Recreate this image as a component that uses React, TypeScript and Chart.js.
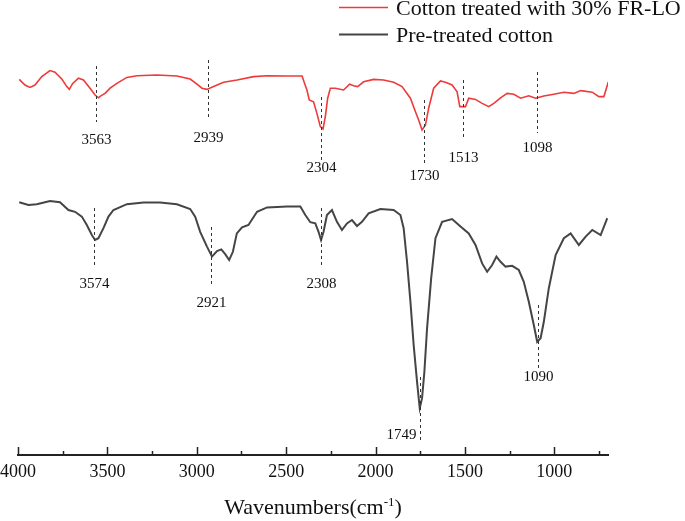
import React, { useEffect, useRef } from 'react';
import { Chart, registerables } from 'chart.js';

Chart.register(...registerables);

const FONT = "'Liberation Serif', 'Times New Roman', Times, serif";

// Series names
const seriesNames = ['Cotton treated with 30% FR-LO', 'Pre-treated cotton'];

// Cotton treated with 30% FR-LO (wavenumber cm-1, relative transmittance)
const treatedWavenumbers = [
  3993, 3961, 3933, 3905, 3867, 3821, 3793, 3755, 3727, 3713, 3694, 3662, 3634, 3597, 3569,
  3550, 3537, 3513, 3485, 3447, 3391, 3335, 3223, 3111, 3037, 2999, 2971, 2943, 2906, 2850,
  2775, 2682, 2607, 2495, 2411, 2397, 2384, 2371, 2347, 2328, 2309, 2294, 2281, 2268, 2253,
  2225, 2179, 2145, 2123, 2100, 2067, 2011, 1955, 1899, 1852, 1805, 1777, 1759, 1740, 1721,
  1703, 1675, 1637, 1609, 1572, 1544, 1529, 1497, 1479, 1441, 1404, 1367, 1339, 1301, 1264,
  1227, 1189, 1143, 1105, 1059, 1003, 947, 891, 853, 788, 751, 723, 698,
];
const treatedValues = [
  93.9, 92.5, 91.9, 92.5, 94.6, 96.1, 95.7, 94.0, 92.1, 91.4, 92.9, 94.2, 93.75, 91.7, 90.0,
  89.3, 89.8, 90.4, 91.7, 92.9, 94.4, 94.8, 95.0, 94.75, 94.0, 92.7, 91.7, 91.4, 92.1, 93.2,
  93.75, 94.6, 94.8, 94.75, 94.75, 92.9, 91.25, 88.75, 88.3, 85.4, 82.1, 81.5, 84.6, 89.2, 91.7,
  91.7, 91.25, 92.7, 92.3, 92.1, 93.3, 93.9, 93.75, 93.2, 92.1, 89.2, 85.8, 83.75, 81.25, 82.5,
  86.7, 91.7, 93.5, 93.2, 92.5, 90.8, 87.1, 87.1, 89.2, 88.9, 87.9, 87.1, 87.9, 89.3, 90.4,
  90.2, 89.2, 89.8, 89.2, 89.75, 90.2, 90.7, 90.4, 91.1, 90.7, 89.6, 89.6, 93.3,
];

// Pre-treated cotton
const pretreatedWavenumbers = [
  3993, 3942, 3895, 3821, 3765, 3718, 3681, 3643, 3615, 3587, 3569, 3550, 3522, 3494, 3466,
  3391, 3298, 3205, 3111, 3037, 3009, 2981, 2943, 2915, 2887, 2863, 2841, 2819, 2798, 2776,
  2747, 2711, 2663, 2607, 2495, 2421, 2393, 2365, 2337, 2319, 2305, 2291, 2272, 2244, 2216,
  2188, 2160, 2132, 2104, 2076, 2039, 1973, 1899, 1861, 1843, 1824, 1805, 1787, 1768, 1753,
  1740, 1727, 1712, 1689, 1665, 1628, 1572, 1525, 1479, 1441, 1404, 1376, 1348, 1324, 1301,
  1273, 1236, 1199, 1171, 1143, 1115, 1096, 1077, 1059, 1031, 993, 947, 909, 863, 825,
  788, 741, 704,
];
const pretreatedValues = [
  63.2, 62.5, 62.7, 63.5, 63.2, 61.25, 60.8, 59.6, 57.5, 55.0, 53.75, 54.2, 56.7, 59.6, 61.25,
  62.7, 63.1, 63.1, 62.7, 61.5, 59.6, 55.8, 52.1, 49.6, 51.0, 51.4, 50.2, 48.75, 50.8, 55.4,
  56.9, 57.5, 60.8, 61.9, 62.1, 62.1, 60.0, 58.2, 57.9, 55.8, 53.75, 55.8, 60.0, 61.25, 58.3,
  56.25, 57.9, 58.75, 57.25, 58.3, 60.4, 61.5, 61.25, 60.0, 56.7, 48.3, 38.3, 27.5, 18.3, 11.7,
  14.2, 20.8, 31.7, 44.2, 54.2, 58.3, 59.0, 57.1, 55.4, 52.5, 47.9, 45.8, 47.5, 49.6, 48.3,
  47.1, 47.3, 46.25, 43.3, 38.3, 32.5, 28.3, 29.2, 33.3, 41.7, 50.0, 54.2, 55.4, 52.5, 54.6,
  56.25, 55.0, 59.2,
];

// Axis
const xMin = 700;
const xMax = 4000;
const xTickLabels = [4000, 3500, 3000, 2500, 2000, 1500, 1000];
const xMinorTicks = [3750, 3250, 2750, 2250, 1750, 1250, 750];
const xTitle = 'Wavenumbers(cm';
const xTitleSup = '-1';

// Peak annotations (values in axis units)
const treatedPeaks = [3563, 2939, 2304, 1730, 1513, 1098];
const treatedPeakTop = [97.25, 98.75, 89.5, 88.75, 93.75, 95.75];
const treatedPeakBottom = [83.25, 83.75, 73.75, 73.0, 78.75, 80.5];
const treatedPeakLabelAt = [78.75, 79.25, 71.75, 69.75, 74.25, 76.75];

const pretreatedPeaks = [3574, 2921, 2308, 1749, 1090];
const pretreatedPeakTop = [61.75, 57.0, 61.75, 19.5, 37.5];
const pretreatedPeakBottom = [46.75, 42.0, 46.75, 3.75, 21.75];
const pretreatedPeakLabelAt = [42.75, 38.0, 42.75, 5.0, 19.5];
const pretreatedPeakLabelSide = ['center', 'center', 'center', 'left', 'center'];

const RED = '#ee3a3a';
const DARK = '#454545';

const overlayPlugin = {
  id: 'overlay',
  afterDraw(chart: any) {
    const ctx = chart.ctx as CanvasRenderingContext2D;
    const xs = chart.scales.x;
    const ys = chart.scales.y;
    const area = chart.chartArea;
    ctx.save();

    // inward tick marks
    ctx.strokeStyle = '#222';
    ctx.lineWidth = 1.5;
    const tick = (v: number, len: number) => {
      const px = Math.round(xs.getPixelForValue(v)) + 0.5;
      ctx.beginPath();
      ctx.moveTo(px, area.bottom);
      ctx.lineTo(px, area.bottom - len);
      ctx.stroke();
    };
    xTickLabels.forEach((v) => tick(v, 8));
    xMinorTicks.forEach((v) => tick(v, 4));

    // tick labels
    ctx.fillStyle = '#111';
    ctx.font = `18px ${FONT}`;
    ctx.textAlign = 'center';
    ctx.textBaseline = 'middle';
    xTickLabels.forEach((v) => {
      ctx.fillText(String(v), xs.getPixelForValue(v), area.bottom + 17);
    });

    // peak annotations
    const drawPeaks = (
      peaks: number[], tops: number[], bottoms: number[], labels: number[], sides?: string[]
    ) => {
      peaks.forEach((p, i) => {
        const px = Math.round(xs.getPixelForValue(p)) + 0.5;
        ctx.save();
        ctx.setLineDash([3, 3]);
        ctx.strokeStyle = '#333';
        ctx.lineWidth = 1;
        ctx.beginPath();
        ctx.moveTo(px, ys.getPixelForValue(tops[i]));
        ctx.lineTo(px, ys.getPixelForValue(bottoms[i]));
        ctx.stroke();
        ctx.restore();
        ctx.fillStyle = '#111';
        ctx.font = `15px ${FONT}`;
        ctx.textBaseline = 'middle';
        const side = sides ? sides[i] : 'center';
        if (side === 'left') {
          ctx.textAlign = 'right';
          ctx.fillText(String(p), px - 4, ys.getPixelForValue(labels[i]));
        } else {
          ctx.textAlign = 'center';
          ctx.fillText(String(p), px, ys.getPixelForValue(labels[i]));
        }
      });
    };
    drawPeaks(treatedPeaks, treatedPeakTop, treatedPeakBottom, treatedPeakLabelAt);
    drawPeaks(pretreatedPeaks, pretreatedPeakTop, pretreatedPeakBottom, pretreatedPeakLabelAt, pretreatedPeakLabelSide);

    // legend
    const colors = [RED, DARK];
    const widths = [1.5, 2];
    const rowY = [8, 35];
    seriesNames.forEach((name, i) => {
      ctx.strokeStyle = colors[i];
      ctx.lineWidth = widths[i];
      ctx.beginPath();
      ctx.moveTo(339, rowY[i] - 0.5);
      ctx.lineTo(388, rowY[i] - 0.5);
      ctx.stroke();
      ctx.fillStyle = '#111';
      ctx.font = `22px ${FONT}`;
      ctx.textAlign = 'left';
      ctx.textBaseline = 'middle';
      ctx.fillText(name, 396, rowY[i] + 1);
    });

    // axis title with superscript
    ctx.fillStyle = '#111';
    ctx.textBaseline = 'alphabetic';
    ctx.textAlign = 'left';
    ctx.font = `22px ${FONT}`;
    const w1 = ctx.measureText(xTitle).width;
    const w3 = ctx.measureText(')').width;
    ctx.font = `13px ${FONT}`;
    const w2 = ctx.measureText(xTitleSup).width;
    const total = w1 + w2 + w3;
    const cx = (area.left + area.right) / 2;
    const baseY = chart.height - 7;
    let x = cx - total / 2;
    ctx.font = `22px ${FONT}`;
    ctx.fillText(xTitle, x, baseY);
    x += w1;
    ctx.font = `13px ${FONT}`;
    ctx.fillText(xTitleSup, x, baseY - 8);
    x += w2;
    ctx.font = `22px ${FONT}`;
    ctx.fillText(')', x, baseY);

    ctx.restore();
  },
};

export default function App() {
  const canvasRef = useRef<HTMLCanvasElement | null>(null);

  useEffect(() => {
    document.body.style.margin = '0';
    const canvas = canvasRef.current;
    if (!canvas) return;
    const toPoints = (xsArr: number[], ysArr: number[]) => xsArr.map((x, i) => ({ x, y: ysArr[i] }));
    const chart = new Chart(canvas, {
      type: 'line',
      data: {
        datasets: [
          {
            label: seriesNames[0],
            data: toPoints(treatedWavenumbers, treatedValues),
            borderColor: RED,
            borderWidth: 1.6,
            pointRadius: 0,
            tension: 0,
            fill: false,
          },
          {
            label: seriesNames[1],
            data: toPoints(pretreatedWavenumbers, pretreatedValues),
            borderColor: DARK,
            borderWidth: 2,
            pointRadius: 0,
            tension: 0,
            fill: false,
          },
        ],
      },
      options: {
        responsive: false,
        animation: false,
        devicePixelRatio: 1,
        layout: { padding: { top: 55, left: 18, right: 77, bottom: 0 } },
        plugins: {
          legend: { display: false },
          tooltip: { enabled: false },
          title: { display: false },
        },
        scales: {
          x: {
            type: 'linear',
            reverse: true,
            min: xMin,
            max: xMax,
            grid: { display: false, drawTicks: false },
            border: { display: true, color: '#222', width: 2 },
            ticks: { display: false },
            afterFit: (scale: any) => {
              scale.height = 66;
            },
          },
          y: {
            display: false,
            min: 0,
            max: 100,
          },
        },
      },
      plugins: [overlayPlugin],
    } as any);
    return () => chart.destroy();
  }, []);

  return (
    <div style={{ width: 685, height: 521, background: '#fff' }}>
      <canvas ref={canvasRef} width={685} height={521} style={{ display: 'block', width: 685, height: 521 }} />
    </div>
  );
}
